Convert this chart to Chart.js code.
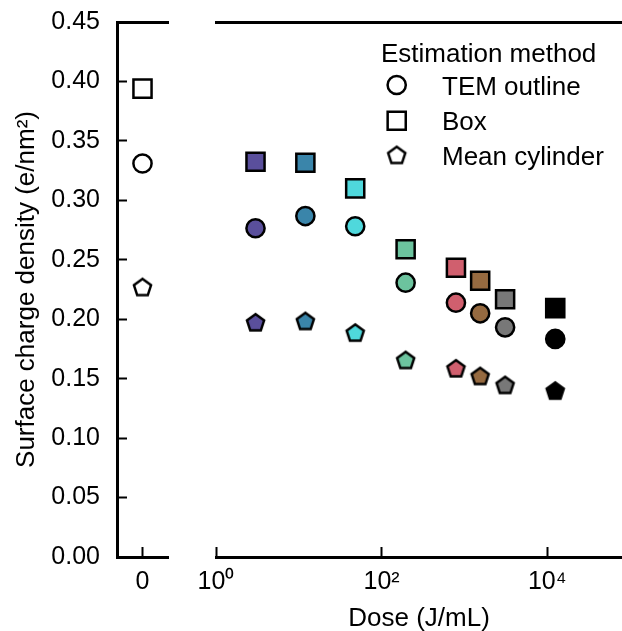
<!DOCTYPE html>
<html><head><meta charset="utf-8">
<script src="https://cdn.jsdelivr.net/npm/chart.js@4.4.0/dist/chart.umd.min.js"></script>
<style>
html,body{margin:0;padding:0;background:#fff;}
#wrap{position:relative;width:622px;height:631px;overflow:hidden;background:#fff;}
canvas{position:absolute;top:0;}
#cl{left:0;} #cr{left:170px;}
</style></head><body>
<div id="wrap"><canvas id="cl" width="175" height="631"></canvas><canvas id="cr" width="452" height="631"></canvas></div>
<script>
// ---- data ----
const doses = [3, 12, 48, 195, 790, 1550, 3100, 12500];
const temOutline = [0.2765, 0.2868, 0.2782, 0.2307, 0.2139, 0.2050, 0.1932, 0.1834];
const boxMethod = [0.3325, 0.3316, 0.3101, 0.2588, 0.2433, 0.2324, 0.2168, 0.2093];
const meanCylinder = [0.1974, 0.1985, 0.1887, 0.1657, 0.1587, 0.1522, 0.1447, 0.1399];
const controlTem = [0.331];
const controlBox = [0.394];
const controlCylinder = [0.227];
const controlDose = [0];
const pointColors = ['#5a4f9c', '#3a85aa', '#4fd8dc', '#6cc39e', '#d05f6e', '#966a40', '#787878', '#000000'];
const yTickValues = [0.00, 0.05, 0.10, 0.15, 0.20, 0.25, 0.30, 0.35, 0.40, 0.45];
const xTickValues = [1, 100, 10000];
const xTickLabels = ['10\u2070', '10\u00B2', '10\u2074'];
const controlTickLabels = ['0'];
const methodNames = ['TEM outline', 'Box', 'Mean cylinder'];
const legendTitle = 'Estimation method';
const xTitle = 'Dose (J/mL)';
const yTitle = 'Surface charge density (e/nm\u00B2)';

// ---- styling ----
const FONT = "'Liberation Sans', Arial, Helvetica, sans-serif";
Chart.defaults.font.family = FONT;
Chart.defaults.color = '#000';
const BW = 2.5;

function pentagon(fill, R, lw) {
  const s = Math.ceil(2 * R + lw + 4);
  const c = document.createElement('canvas');
  c.width = s; c.height = s;
  const g = c.getContext('2d');
  const cx = s / 2, cy = s / 2 + 0.8;
  g.beginPath();
  for (let i = 0; i < 5; i++) {
    const a = -Math.PI / 2 + i * 2 * Math.PI / 5;
    const x = cx + R * Math.cos(a), y = cy + R * Math.sin(a);
    if (i === 0) g.moveTo(x, y); else g.lineTo(x, y);
  }
  g.closePath();
  g.fillStyle = fill; g.fill();
  g.lineWidth = lw; g.strokeStyle = '#000'; g.lineJoin = 'miter'; g.stroke();
  return c;
}

const circleR = 9.1, rectR = 12.8, pentR = 9;

function commonX(extra) {
  return Object.assign({
    grid: { drawOnChartArea: false, drawTicks: true, tickLength: -10, tickWidth: 2, tickColor: '#000' },
    border: { display: true, color: '#000', width: 3 },
    afterFit: s => { s.height = 74; s.paddingLeft = 0; s.paddingRight = 0; }
  }, extra);
}
function topSpine() {
  return {
    type: 'linear', position: 'top', display: true,
    ticks: { display: false },
    grid: { display: false, drawTicks: false },
    border: { display: true, color: '#000', width: 3 },
    afterFit: s => { s.height = 0; s.paddingLeft = 0; s.paddingRight = 0; }
  };
}

// ---- left panel (dose 0) ----
new Chart(document.getElementById('cl'), {
  type: 'scatter',
  data: {
    datasets: [
      { label: methodNames[0], data: controlDose.map((d, i) => ({ x: d, y: controlTem[i] })),
        pointStyle: 'circle', pointRadius: circleR, pointHoverRadius: circleR,
        pointBackgroundColor: '#fff', pointBorderColor: '#000', pointBorderWidth: BW, pointHoverBorderWidth: BW },
      { label: methodNames[1], data: controlDose.map((d, i) => ({ x: d, y: controlBox[i] })),
        pointStyle: 'rect', pointRadius: rectR, pointHoverRadius: rectR,
        pointBackgroundColor: '#fff', pointBorderColor: '#000', pointBorderWidth: BW, pointHoverBorderWidth: BW },
      { label: methodNames[2], data: controlDose.map((d, i) => ({ x: d, y: controlCylinder[i] })),
        pointStyle: pentagon('#fff', pentR, BW), pointRadius: 10, pointHoverRadius: 10 }
    ]
  },
  options: {
    responsive: false, animation: false, devicePixelRatio: 1, events: [],
    layout: { autoPadding: false, padding: { left: 0, top: 22, right: 7, bottom: 0 } },
    plugins: { legend: { display: false }, tooltip: { enabled: false } },
    scales: {
      x: commonX({
        type: 'linear', position: 'bottom', min: -1, max: 1,
        afterBuildTicks: s => { s.ticks = controlDose.map(v => ({ value: v })); },
        ticks: { callback: (v, i) => controlTickLabels[i], font: { size: 25 }, color: '#000', padding: 20, maxRotation: 0, autoSkip: false }
      }),
      x2: topSpine(),
      y: {
        type: 'linear', position: 'left', min: 0, max: 0.45,
        afterBuildTicks: s => { s.ticks = yTickValues.map(v => ({ value: v })); },
        ticks: { callback: v => Number(v).toFixed(2), font: { size: 25 }, color: '#000', padding: 27, autoSkip: false },
        grid: { drawOnChartArea: false, drawTicks: true, tickLength: -10, tickWidth: 2, tickColor: '#000' },
        border: { display: true, color: '#000', width: 3 },
        title: { display: true, text: yTitle, font: { size: 26, lineHeight: 1 }, color: '#000', padding: { top: 13.5, bottom: 0 } },
        afterFit: s => { s.width = 117; s.paddingTop = 0; s.paddingBottom = 0; }
      }
    }
  }
});

// ---- legend plugin for right panel ----
const legendMarkers = [
  { style: 'circle', r: circleR },
  { style: 'rect', r: rectR },
  { style: pentagon('#fff', pentR, BW), r: 10 }
];
const methodLegend = {
  id: 'methodLegend',
  afterDraw(chart) {
    const ctx = chart.ctx;
    const ox = 170; // canvas page offset
    ctx.save();
    ctx.fillStyle = '#000';
    ctx.font = '26px ' + FONT;
    ctx.textBaseline = 'alphabetic';
    ctx.textAlign = 'left';
    ctx.fillText(legendTitle, 381 - ox, 62);
    const rows = [85, 120.7, 155];
    methodNames.forEach((name, i) => {
      ctx.fillStyle = '#fff';
      ctx.strokeStyle = '#000';
      ctx.lineWidth = BW;
      Chart.helpers.drawPoint(ctx, { pointStyle: legendMarkers[i].style, radius: legendMarkers[i].r, borderWidth: BW, rotation: 0 }, 396.7 - ox, rows[i]);
      ctx.fillStyle = '#000';
      ctx.fillText(name, 442 - ox, rows[i] + 9.5);
    });
    ctx.restore();
  }
};

// ---- right panel (log dose) ----
new Chart(document.getElementById('cr'), {
  type: 'scatter',
  data: {
    datasets: [
      { label: methodNames[0], data: doses.map((d, i) => ({ x: d, y: temOutline[i] })),
        pointStyle: 'circle', pointRadius: circleR, pointHoverRadius: circleR,
        pointBackgroundColor: pointColors, pointBorderColor: '#000', pointBorderWidth: BW, pointHoverBorderWidth: BW },
      { label: methodNames[1], data: doses.map((d, i) => ({ x: d, y: boxMethod[i] })),
        pointStyle: 'rect', pointRadius: rectR, pointHoverRadius: rectR,
        pointBackgroundColor: pointColors, pointBorderColor: '#000', pointBorderWidth: BW, pointHoverBorderWidth: BW },
      { label: methodNames[2], data: doses.map((d, i) => ({ x: d, y: meanCylinder[i] })),
        pointStyle: pointColors.map(c => pentagon(c, pentR, BW)), pointRadius: 10, pointHoverRadius: 10 }
    ]
  },
  options: {
    responsive: false, animation: false, devicePixelRatio: 1, events: [],
    layout: { autoPadding: false, padding: { left: 46, top: 22, right: 0, bottom: 0 } },
    plugins: { legend: { display: false }, tooltip: { enabled: false } },
    scales: {
      x: commonX({
        type: 'logarithmic', position: 'bottom', min: 1, max: 80000,
        afterBuildTicks: s => { s.ticks = xTickValues.map(v => ({ value: v })); },
        ticks: { callback: (v, i) => xTickLabels[i], font: { size: 25 }, color: '#000', padding: 20, maxRotation: 0, autoSkip: false },
        title: { display: true, text: xTitle, font: { size: 26, lineHeight: 0.9 }, color: '#000', padding: { top: 0, bottom: 0 } }
      }),
      x2: topSpine(),
      y: { type: 'linear', min: 0, max: 0.45, display: false }
    }
  },
  plugins: [methodLegend]
});
</script>
</body></html>
